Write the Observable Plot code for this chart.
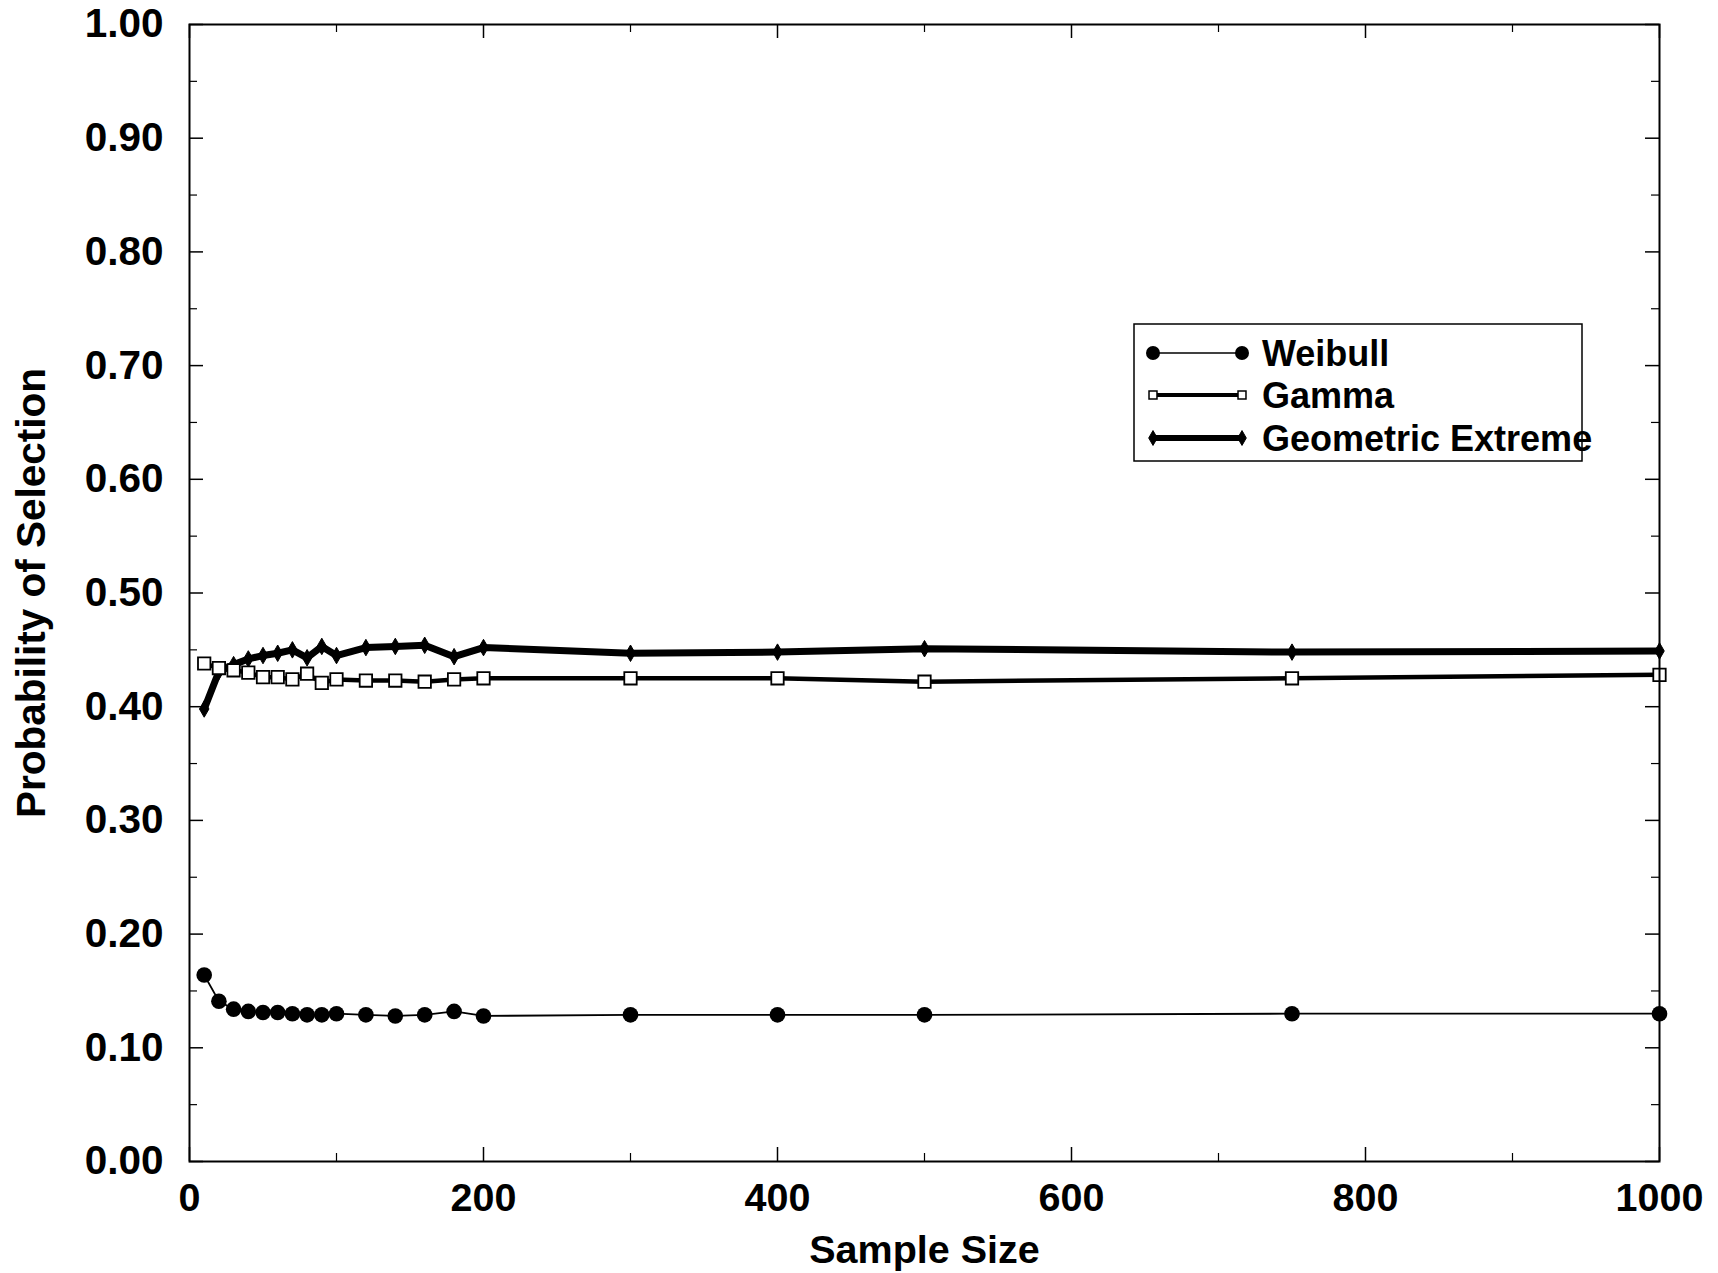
<!DOCTYPE html>
<html><head><meta charset="utf-8">
<script src="https://cdn.jsdelivr.net/npm/d3@7"></script>
<script src="https://cdn.jsdelivr.net/npm/@observablehq/plot@0.6"></script>
<style>body{margin:0;background:#fff}</style>
</head><body><div id="chart"></div>
<script>
const sampleSizes = [10,20,30,40,50,60,70,80,90,100,120,140,160,180,200,300,400,500,750,1000];
const weibull    = [0.164,0.141,0.134,0.132,0.131,0.131,0.130,0.129,0.129,0.130,0.129,0.128,0.129,0.132,0.128,0.129,0.129,0.129,0.130,0.130];
const gamma      = [0.438,0.434,0.432,0.430,0.426,0.426,0.424,0.429,0.421,0.424,0.423,0.423,0.422,0.424,0.425,0.425,0.425,0.422,0.425,0.428];
const geoExtreme = [0.398,0.431,0.437,0.442,0.445,0.447,0.450,0.443,0.453,0.445,0.452,0.453,0.454,0.444,0.452,0.447,0.448,0.451,0.448,0.449];
const seriesNames = ["Weibull","Gamma","Geometric Extreme"];
const yMajor = [0,0.1,0.2,0.3,0.4,0.5,0.6,0.7,0.8,0.9,1.0];
const yMinor = [0.05,0.15,0.25,0.35,0.45,0.55,0.65,0.75,0.85,0.95];
const xMajor = [0,200,400,600,800,1000];
const xMinor = [100,300,500,700,900];

const W = 1718, H = 1273;
const mL = 189, mR = 59, mT = 24, mB = 112;
const pW = W - mL - mR, pH = H - mT - mB;

const rows = (vals) => sampleSizes.map((x, i) => ({x, y: vals[i]}));
const dW = rows(weibull), dG = rows(gamma), dE = rows(geoExtreme);

const font = "'Liberation Sans', Arial, Helvetica, sans-serif";

const chart = Plot.plot({
  width: W, height: H,
  marginLeft: mL, marginRight: mR, marginTop: mT, marginBottom: mB,
  style: {fontFamily: font, fontSize: "39.5px", fontWeight: "bold", color: "black", background: "white"},
  x: {domain: [0, 1000]},
  y: {domain: [0, 1]},
  marks: [
    // inward ticks on all four sides
    Plot.tickY(yMajor, {y: d => d, insetRight: pW - 14, strokeWidth: 1.5}),
    Plot.tickY(yMinor, {y: d => d, insetRight: pW - 8, strokeWidth: 1.2}),
    Plot.tickY(yMajor, {y: d => d, insetLeft: pW - 14, strokeWidth: 1.5}),
    Plot.tickY(yMinor, {y: d => d, insetLeft: pW - 8, strokeWidth: 1.2}),
    Plot.tickX(xMajor, {x: d => d, insetTop: pH - 14, strokeWidth: 1.5}),
    Plot.tickX(xMinor, {x: d => d, insetTop: pH - 8, strokeWidth: 1.2}),
    Plot.tickX(xMajor, {x: d => d, insetBottom: pH - 14, strokeWidth: 1.5}),
    Plot.tickX(xMinor, {x: d => d, insetBottom: pH - 8, strokeWidth: 1.2}),
    Plot.axisY({ticks: yMajor, tickSize: 0, tickPadding: 26, tickFormat: d3.format(".2f"),
      label: "Probability of Selection", labelAnchor: "center", labelOffset: 173, labelArrow: "none", fontSize: 40.5}),
    Plot.axisX({ticks: xMajor, tickSize: 0, tickPadding: 21, tickFormat: d3.format("d"),
      label: "Sample Size", labelAnchor: "center", labelOffset: 101, labelArrow: "none"}),
    // series
    Plot.line(dE, {x: "x", y: "y", stroke: "black", strokeWidth: 7}),
    Plot.dot(dE, {x: "x", y: "y", symbol: "diamond", r: 5, fill: "black", stroke: "black", strokeWidth: 1}),
    Plot.line(dG, {x: "x", y: "y", stroke: "black", strokeWidth: 4.5}),
    Plot.dot(dG, {x: "x", y: "y", symbol: "square", r: 7, fill: "white", stroke: "black", strokeWidth: 1.8}),
    Plot.line(dW, {x: "x", y: "y", stroke: "black", strokeWidth: 1.8}),
    Plot.dot(dW, {x: "x", y: "y", r: 7.8, fill: "black", stroke: "none"}),
    Plot.frame({stroke: "black", strokeWidth: 2})
  ]
});
document.getElementById("chart").appendChild(chart);

// legend
const svg = d3.select(chart);
const lg = svg.append("g").attr("class", "legend");
lg.append("rect").attr("x", 1134).attr("y", 324).attr("width", 448).attr("height", 137)
  .attr("fill", "white").attr("stroke", "black").attr("stroke-width", 1.5);
const styles = [
  {sw: 1.5, sym: d3.symbolCircle, size: Math.PI * 7 * 7, fill: "black", stroke: "none", ssw: 0},
  {sw: 4, sym: d3.symbolSquare, size: Math.PI * 4.5 * 4.5, fill: "white", stroke: "black", ssw: 1.5},
  {sw: 6, sym: d3.symbolDiamond, size: Math.PI * 4.5 * 4.5, fill: "black", stroke: "black", ssw: 1}
];
const rowY = [353, 395, 438];
seriesNames.forEach((name, i) => {
  const s = styles[i], y = rowY[i];
  lg.append("line").attr("x1", 1153).attr("x2", 1242).attr("y1", y).attr("y2", y)
    .attr("stroke", "black").attr("stroke-width", s.sw);
  [1153, 1242].forEach(x => {
    lg.append("path").attr("d", d3.symbol(s.sym, s.size)())
      .attr("transform", `translate(${x},${y})`)
      .attr("fill", s.fill).attr("stroke", s.stroke).attr("stroke-width", s.ssw);
  });
  lg.append("text").attr("x", 1262).attr("y", y).attr("dy", "0.35em")
    .attr("text-anchor", "start")
    .attr("font-family", font).attr("font-size", 36).attr("font-weight", "bold")
    .attr("fill", "black").text(name);
});
</script>
</body></html>
